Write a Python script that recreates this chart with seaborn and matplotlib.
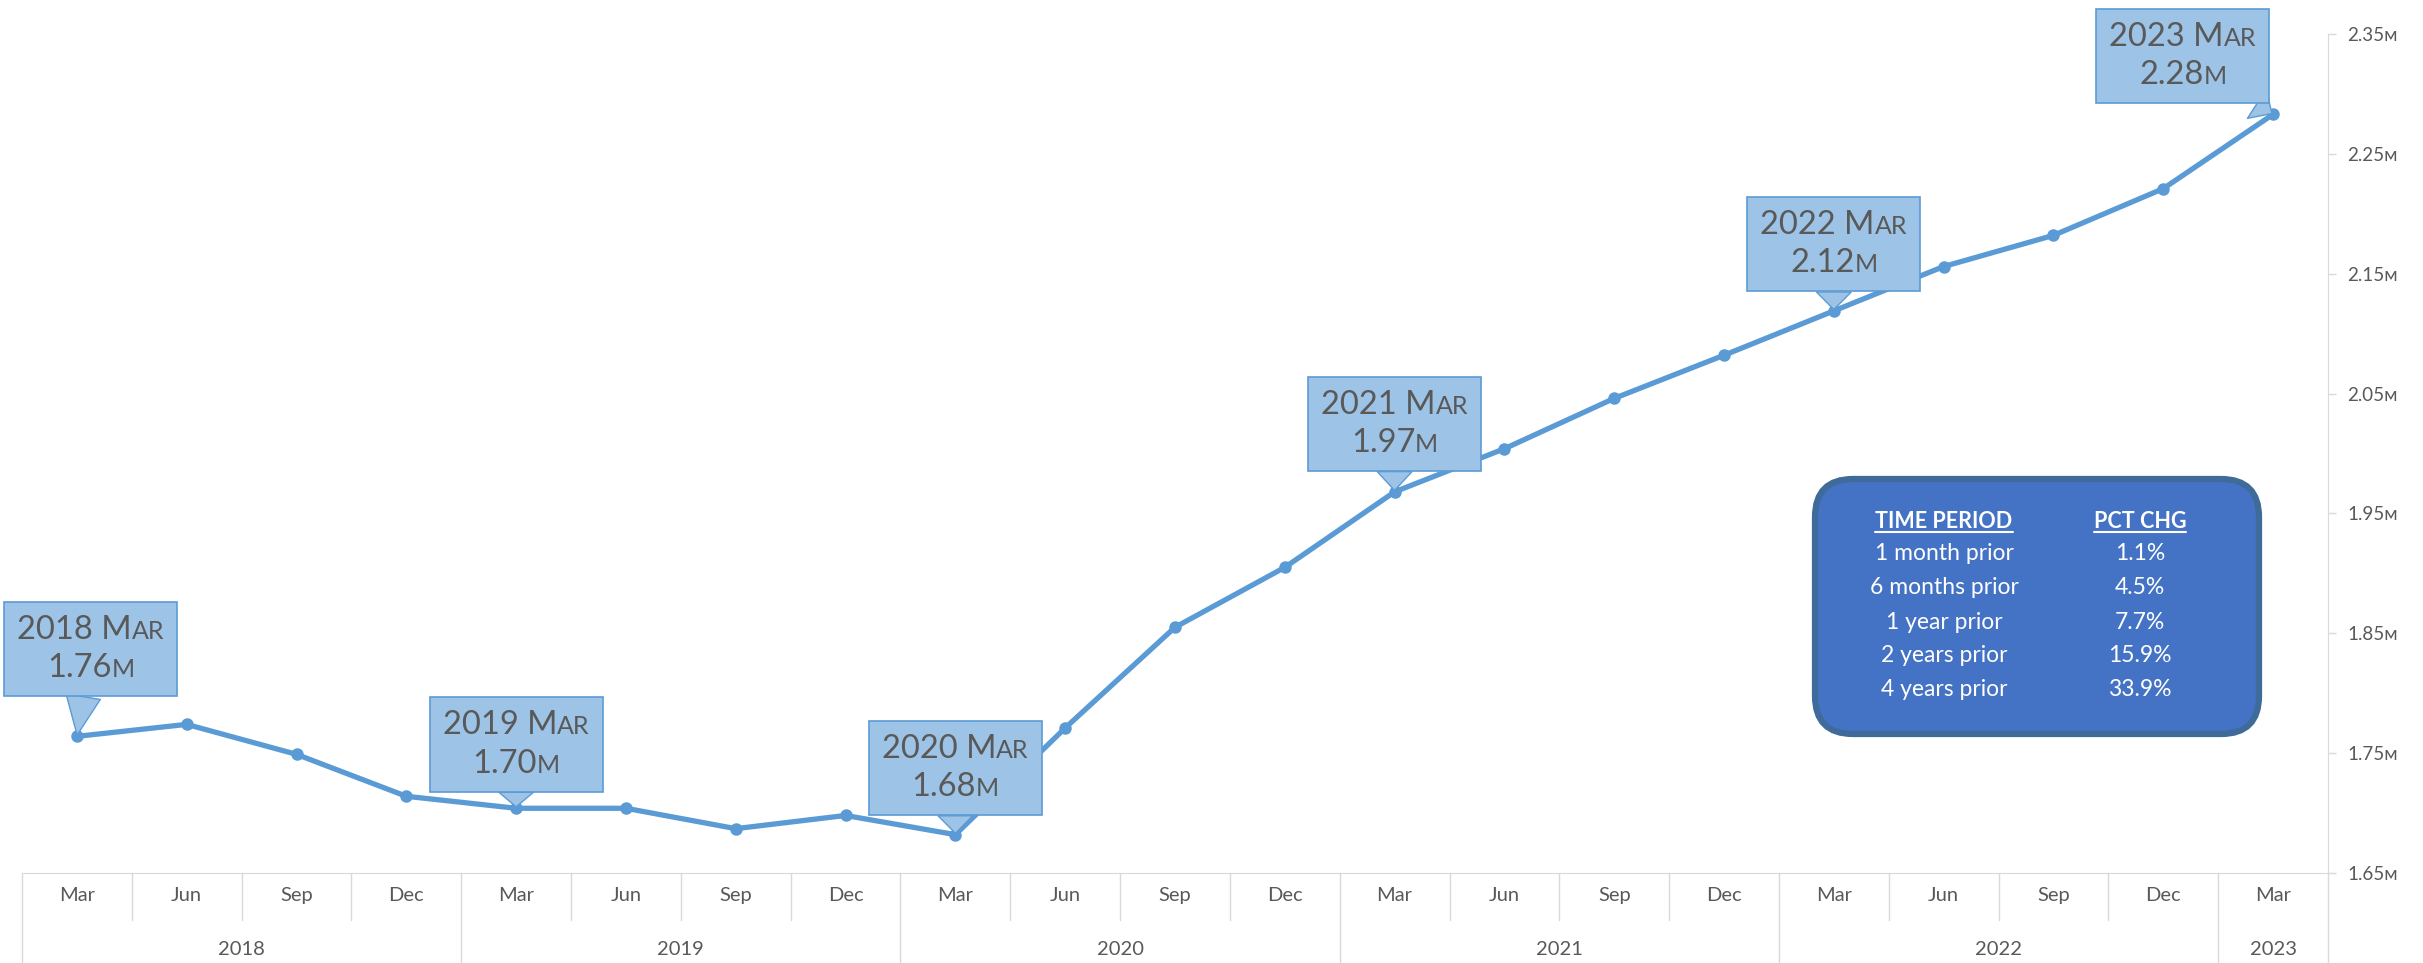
import matplotlib
matplotlib.use("Agg")
import matplotlib.pyplot as plt
import matplotlib.transforms as mtransforms
from matplotlib.offsetbox import TextArea, HPacker, VPacker, AnnotationBbox
from matplotlib.patches import FancyBboxPatch
from matplotlib.lines import Line2D
import numpy as np
import pandas as pd
import seaborn as sns

# data (quarterly, millions)
months = ['Mar', 'Jun', 'Sep', 'Dec'] * 5 + ['Mar']
years = [2018] * 4 + [2019] * 4 + [2020] * 4 + [2021] * 4 + [2022] * 4 + [2023]
values = [1.764, 1.774, 1.749, 1.714, 1.704, 1.704, 1.687, 1.698, 1.682, 1.771,
          1.855, 1.905, 1.968, 2.004, 2.046, 2.082, 2.119, 2.156, 2.182, 2.221, 2.283]

periods = ['1 month prior', '6 months prior', '1 year prior', '2 years prior', '4 years prior']
pct_chg = ['1.1%', '4.5%', '7.7%', '15.9%', '33.9%']

df = pd.DataFrame({'pos': np.arange(len(values)), 'month': months, 'year': years, 'value': values})

sns.set_style("white")
plt.rcParams['font.family'] = ['Lato', 'DejaVu Sans']

LINE = '#5b9bd5'
BOXFILL = '#9dc3e6'
GRAY = '#595959'
GRID = '#d9d9d9'

W, H = 2423, 963
fig = plt.figure(figsize=(W / 100, H / 100), dpi=100)
ax = fig.add_axes([22 / W, 90 / H, (2328 - 22) / W, 839 / H])

sns.lineplot(data=df, x='pos', y='value', ax=ax, color=LINE, linewidth=3.8,
             marker='o', markersize=9, markeredgewidth=0, markeredgecolor=LINE)

ax.set_xlim(-0.5, len(values) - 0.5)
ax.set_ylim(1.65, 2.35)
ax.set_xlabel('')
ax.set_ylabel('')

# right-hand value axis
ax.yaxis.tick_right()
yt = np.round(np.arange(1.65, 2.351, 0.1), 2)
ax.set_yticks(yt)
ax.set_yticklabels([f'{v:.2f}ᴍ' for v in yt], color=GRAY, fontsize=13.5)
ax.tick_params(axis='y', length=6, width=1, color=GRID, pad=8, right=True, left=False)

for s in ['top', 'left']:
    ax.spines[s].set_visible(False)
ax.spines['right'].set_color(GRID)
ax.spines['bottom'].set_color(GRID)
ax.spines['right'].set_bounds(1.65, 2.35)

# month row
ax.set_xticks(df['pos'])
ax.set_xticklabels(df['month'], color=GRAY, fontsize=14.5)
ax.tick_params(axis='x', length=0, pad=10)

# category grid below the axis
blend = mtransforms.blended_transform_factory(ax.transData, ax.transAxes)
month_drop = -47 / 839
full_drop = -90 / 839
bounds = np.arange(len(values) + 1) - 0.5
year_starts = [b for i, b in enumerate(bounds[:-1]) if i == 0 or years[i] != years[i - 1]]
for b in bounds:
    is_year = b in year_starts or b == bounds[-1]
    ax.plot([b, b], [0, full_drop if is_year else month_drop], transform=blend,
            color=GRID, lw=1, clip_on=False)

for yr in sorted(set(years)):
    idx = df.index[df['year'] == yr]
    ax.text((idx.min() + idx.max()) / 2, -76 / 839, str(yr), transform=blend,
            ha='center', va='center', color=GRAY, fontsize=14.5)

# callouts on March points
offsets = {2018: (10, 63), 2019: (0, 46), 2020: (0, 48), 2021: (0, 49), 2022: (0, 48), 2023: (-65, 42)}
big, small = 23.5, 18
for _, r in df[df['month'] == 'Mar'].iterrows():
    tp_big = dict(size=big, color=GRAY)
    tp_small = dict(size=small, color=GRAY)
    line1 = HPacker(children=[TextArea(f"{r['year']} M", textprops=tp_big),
                              TextArea("AR", textprops=tp_small)],
                    align='baseline', pad=0, sep=0)
    line2 = HPacker(children=[TextArea(f"{r['value']:.2f}", textprops=tp_big),
                              TextArea("M", textprops=tp_small)],
                    align='baseline', pad=0, sep=0)
    box = VPacker(children=[line1, line2], align='center', pad=0, sep=6)
    ab = AnnotationBbox(box, (r['pos'], r['value']), xybox=offsets[r['year']],
                        xycoords='data', boxcoords='offset points', fontsize=big, pad=0.4,
                        bboxprops=dict(boxstyle='square,pad=0.4', fc=BOXFILL, ec=LINE, lw=1.2),
                        arrowprops=dict(arrowstyle='wedge,tail_width=0.9', fc=BOXFILL, ec=LINE,
                                        lw=1, shrinkA=0, shrinkB=1, mutation_scale=20),
                        zorder=5)
    ax.add_artist(ab)

# summary table box
tbl = FancyBboxPatch((18.15, 2.29), 4.44, 2.55, boxstyle='round,pad=0,rounding_size=0.38',
                     transform=fig.dpi_scale_trans, fc='#4472c4', ec='#3f6b9a', lw=4.5, zorder=6)
fig.add_artist(tbl)

col_l, col_r = 1944 / W, 2140 / W
row_y = [553, 588, 622, 656, 690]
h1 = fig.text(col_l, 1 - 521 / H, 'TIME PERIOD', ha='center', va='center', color='white',
              fontsize=15.5, fontweight='bold', zorder=7)
h2 = fig.text(col_r, 1 - 521 / H, 'PCT CHG', ha='center', va='center', color='white',
              fontsize=15.5, fontweight='bold', zorder=7)
for p, c, y in zip(periods, pct_chg, row_y):
    fig.text(col_l, 1 - y / H, p, ha='center', va='center', color='white', fontsize=16.5, zorder=7)
    fig.text(col_r, 1 - y / H, c, ha='center', va='center', color='white', fontsize=16.5, zorder=7)

fig.canvas.draw()
rend = fig.canvas.get_renderer()
for t in (h1, h2):
    bb = t.get_window_extent(rend)
    fig.add_artist(Line2D([bb.x0 / W, bb.x1 / W], [(bb.y0 - 1) / H] * 2,
                          transform=fig.transFigure, color='white', lw=1.5, zorder=7))

fig.savefig('out.png', dpi=100)
plt.close(fig)
